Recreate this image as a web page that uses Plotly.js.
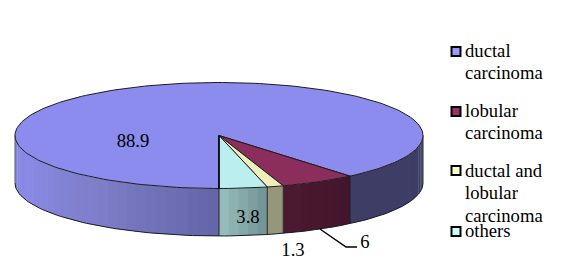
<!DOCTYPE html>
<html><head><meta charset="utf-8">
<script src="https://cdn.plot.ly/plotly-3.0.1.min.js"></script>
<style>html,body{margin:0;padding:0;background:#fff}</style></head>
<body><div id="chart" style="width:562px;height:276px"></div>
<script>
const categories = ['ductal carcinoma','lobular carcinoma','ductal and lobular carcinoma','others'];
const values = [88.9, 6, 1.3, 3.8];
const valueLabels = ['88.9','6','1.3','3.8'];
const topColors = ['#8c8cee','#8c2e5c','#eeeebb','#bbeeee'];
const legendColors = ['#9999ff','#993366','#ffffcc','#ccffff'];
const legendLines = [['ductal','carcinoma'],['lobular','carcinoma'],['ductal and','lobular','carcinoma'],['others']];

const FONT = '"Liberation Serif", "Times New Roman", serif', FS = 18.67;
const cx = 219, cy = 135.5, rx = 204, ry = 53, depth = 47.5;
const startAngle = 180;
const rad = d => d * Math.PI / 180;
const px = t => cx + rx * Math.sin(rad(t));
const py = (t, dz) => cy - ry * Math.cos(rad(t)) + (dz || 0);
const total = values.reduce((a, b) => a + b, 0);
let acc = startAngle;
const spans = values.map(v => { const s = acc; acc += v / total * 360; return [s, acc]; });
const traces = [];
const hex = c => [1, 3, 5].map(i => parseInt(c.substr(i, 2), 16));
const mix = (a, b, f) => { const A = hex(a), B = hex(b); return 'rgb(' + A.map((x, i) => Math.round(x + (B[i] - x) * f)).join(',') + ')'; };
function arc(a, b, dz, n) { const xs = [], ys = []; const N = n || Math.max(2, Math.ceil(Math.abs(b - a) / 1.5)); for (let i = 0; i <= N; i++) { const t = a + (b - a) * i / N; xs.push(px(t)); ys.push(py(t, dz)); } return [xs, ys]; }
function poly(x, y, fill, lineColor, w) { traces.push({ type: 'scatter', mode: 'lines', x, y, fill: 'toself', fillcolor: fill, line: { color: lineColor || fill, width: lineColor ? (w || 1) : 0 }, hoverinfo: 'skip', showlegend: false }); }
function line(x, y, color, w) { traces.push({ type: 'scatter', mode: 'lines', x, y, line: { color, width: w }, hoverinfo: 'skip', showlegend: false }); }
const wallStops = [
  [[90,'#3d3d66'],[140,'#3d3d66'],[180,'#6464a8'],[215,'#7d7dc8'],[250,'#8a8ae6'],[270,'#8080d8']],
  [[140,'#42152a'],[165,'#4e1a32']],
  [[160,'#96967a'],[180,'#96967a']],
  [[166,'#6f9090'],[180,'#98bebe']]
];
function colorAt(stops, t) {
  if (t <= stops[0][0]) return stops[0][1];
  for (let i = 1; i < stops.length; i++) if (t <= stops[i][0]) return mix(stops[i-1][1], stops[i][1], (t - stops[i-1][0]) / (stops[i][0] - stops[i-1][0]));
  return stops[stops.length - 1][1];
}
function wall(a, b, stops) {
  const step = 3, n = Math.ceil((b - a) / step);
  for (let i = 0; i < n; i++) {
    const s = a + (b - a) * i / n, e = Math.min(b, a + (b - a) * (i + 1) / n + 0.4);
    const [x1, y1] = arc(s, e, 0, 3), [x2, y2] = arc(e, s, depth, 3);
    poly(x1.concat(x2), y1.concat(y2), colorAt(stops, (s + e) / 2));
  }
}
wall(90, spans[0][1] - 360, wallStops[0]);
wall(spans[1][0] - 360, spans[1][1] - 360, wallStops[1]);
wall(spans[2][0] - 360, spans[2][1] - 360, wallStops[2]);
wall(spans[3][0] - 360, 180, wallStops[3]);
wall(180, 270, wallStops[0]);
const [bx, by] = arc(90, 270, depth);
line(bx, by, '#1a1a2a', 1);
line([px(270), px(270)], [py(270), py(270, depth)], '#55557a', 1);
line([px(90), px(90)], [py(90), py(90, depth)], '#222233', 1);
spans.forEach(s => { const t = s[0] % 360; if (t >= 90 && t <= 270) line([px(t), px(t)], [py(t), py(t, depth)], '#222222', 1); });
spans.forEach((s, i) => {
  const [ax, ay] = arc(s[0], s[1], 0);
  poly([cx].concat(ax, [cx]), [cy].concat(ay, [cy]), topColors[i], '#1c1c1c', 1);
});
line([cx, cx], [cy, py(180)], '#000000', 1.5);
line([320, 346, 357], [229, 247, 247], '#000000', 1.5);
traces.push({ type: 'scatter', mode: 'text', x: [133, 365, 293, 248], y: [142, 243, 251, 218], text: valueLabels,
  textposition: 'middle center', textfont: { family: FONT, size: FS, color: '#000' }, hoverinfo: 'skip', showlegend: false, cliponaxis: false });
const keyY = [51.5, 111.5, 170.5, 231.5];
const lineY = [[52,74],[112,134],[172,194,217],[232]];
traces.push({ type: 'scatter', mode: 'markers', x: keyY.map(() => 456), y: keyY,
  marker: { symbol: 'square', size: 9, color: legendColors, line: { color: '#000', width: 2 } },
  text: categories, hoverinfo: 'text', showlegend: false });
const lx = [], ly = [], lt = [];
legendLines.forEach((ls, i) => ls.forEach((s, j) => { lx.push(465); ly.push(lineY[i][j]); lt.push(s); }));
traces.push({ type: 'scatter', mode: 'text', x: lx, y: ly, text: lt, textposition: 'middle right',
  textfont: { family: FONT, size: FS, color: '#000' }, hoverinfo: 'skip', showlegend: false, cliponaxis: false });

Plotly.newPlot('chart', traces, {
  width: 562, height: 276, margin: { l: 0, r: 0, t: 0, b: 0 }, showlegend: false,
  paper_bgcolor: '#fff', plot_bgcolor: '#fff',
  xaxis: { range: [0, 562], visible: false, fixedrange: true },
  yaxis: { range: [276, 0], visible: false, fixedrange: true }
}, { displayModeBar: false, staticPlot: true });
</script></body></html>
